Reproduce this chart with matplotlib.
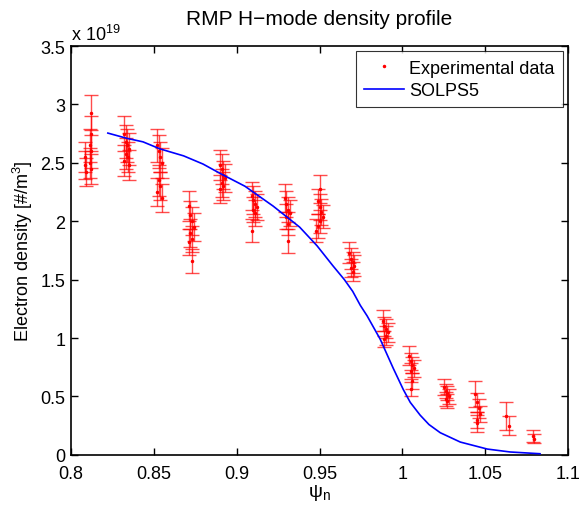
import matplotlib
matplotlib.use("Agg")
import matplotlib.pyplot as plt
import numpy as np

plt.rcParams['font.family'] = ['Liberation Sans', 'DejaVu Sans']
plt.rcParams['mathtext.fontset'] = 'custom'
plt.rcParams['mathtext.rm'] = 'Liberation Sans'
plt.rcParams['mathtext.it'] = 'Liberation Sans:italic'

# Experimental data (density in units of 1e19 m^-3)
exp_psi = [
    0.8085, 0.812, 0.812, 0.8115, 0.812, 0.8085, 0.8115, 0.812, 0.809,
    0.832, 0.833, 0.834, 0.835, 0.8335, 0.8345, 0.832, 0.835,
    0.852, 0.853, 0.854, 0.855, 0.853, 0.854, 0.852, 0.855,
    0.871, 0.872, 0.873, 0.874, 0.872, 0.873, 0.871, 0.873,
    0.890, 0.891, 0.892, 0.893, 0.891, 0.892, 0.890,
    0.909, 0.910, 0.911, 0.912, 0.910, 0.911, 0.909,
    0.929, 0.930, 0.931, 0.932, 0.930, 0.931, 0.931,
    0.950, 0.949, 0.950, 0.951, 0.952, 0.950, 0.949, 0.948,
    0.968, 0.969, 0.970, 0.971, 0.969, 0.970,
    0.988, 0.989, 0.990, 0.991, 0.990, 0.989,
    1.004, 1.005, 1.006, 1.007, 1.005, 1.006, 1.005,
    1.025, 1.026, 1.027, 1.028, 1.026, 1.027,
    1.044, 1.045, 1.046, 1.047, 1.045, 1.045,
    1.0625, 1.064,
    1.079, 1.0795,
]
exp_ne = [
    2.48, 2.93, 2.75, 2.65, 2.60, 2.55, 2.50, 2.45, 2.42,
    2.75, 2.68, 2.65, 2.62, 2.58, 2.55, 2.52, 2.48,
    2.65, 2.60, 2.55, 2.50, 2.35, 2.30, 2.25, 2.20,
    2.13, 2.05, 2.00, 1.95, 1.90, 1.85, 1.82, 1.66,
    2.48, 2.45, 2.40, 2.37, 2.33, 2.30, 2.28,
    2.22, 2.18, 2.15, 2.12, 2.10, 2.07, 1.92,
    2.20, 2.15, 2.10, 2.07, 2.04, 1.98, 1.83,
    2.28, 2.17, 2.12, 2.08, 2.04, 2.00, 1.96, 1.92,
    1.73, 1.68, 1.65, 1.62, 1.60, 1.57,
    1.15, 1.10, 1.08, 1.05, 1.02, 0.99,
    0.85, 0.80, 0.77, 0.74, 0.72, 0.63, 0.56,
    0.58, 0.55, 0.53, 0.50, 0.48, 0.46,
    0.52, 0.45, 0.40, 0.35, 0.30, 0.27,
    0.33, 0.25,
    0.16, 0.14,
]
exp_err = [
    0.12, 0.15, 0.15, 0.14, 0.14, 0.13, 0.13, 0.13, 0.12,
    0.15, 0.14, 0.14, 0.14, 0.13, 0.13, 0.13, 0.13,
    0.14, 0.14, 0.13, 0.13, 0.13, 0.12, 0.12, 0.12,
    0.13, 0.12, 0.12, 0.12, 0.12, 0.11, 0.11, 0.10,
    0.13, 0.13, 0.12, 0.12, 0.12, 0.12, 0.12,
    0.12, 0.12, 0.11, 0.11, 0.11, 0.11, 0.10,
    0.12, 0.11, 0.11, 0.11, 0.11, 0.10, 0.10,
    0.12, 0.11, 0.11, 0.11, 0.10, 0.10, 0.10, 0.10,
    0.09, 0.09, 0.09, 0.09, 0.08, 0.08,
    0.09, 0.08, 0.08, 0.08, 0.08, 0.07,
    0.08, 0.07, 0.07, 0.07, 0.07, 0.07, 0.06,
    0.07, 0.06, 0.06, 0.06, 0.06, 0.06,
    0.11, 0.08, 0.08, 0.07, 0.07, 0.07,
    0.12, 0.08,
    0.05, 0.04,
]

# SOLPS5 simulation profile
solps_psi = [0.8223, 0.8338, 0.8435, 0.8537, 0.8680, 0.8797, 0.890, 0.905, 0.922, 0.930,
             0.938, 0.9485, 0.958, 0.965, 0.970, 0.9746, 0.9787, 0.9866, 0.9945, 1.0005,
             1.0047, 1.0107, 1.0160, 1.0228, 1.0349, 1.0512, 1.065, 1.083]
solps_ne = [2.755, 2.71, 2.68, 2.62, 2.56, 2.49, 2.41, 2.30, 2.13, 2.04,
            1.95, 1.79, 1.62, 1.50, 1.40, 1.28, 1.19, 0.99, 0.74, 0.56,
            0.45, 0.34, 0.26, 0.19, 0.11, 0.05, 0.025, 0.01]

fig = plt.figure(figsize=(5.81, 5.06), dpi=100)
ax = fig.add_axes([0.122, 0.099, 0.856, 0.808])

ax.errorbar(exp_psi, exp_ne, yerr=exp_err, fmt='none', ecolor='red',
            elinewidth=1.0, capsize=5, capthick=1.0, alpha=0.7, zorder=2)
ax.plot(exp_psi, exp_ne, linestyle='none', marker='.', markersize=3,
        color='red', label='Experimental data', zorder=3)
ax.plot(solps_psi, solps_ne, color='blue', linewidth=1.2, label='SOLPS5', zorder=4)

ax.set_xlim(0.8, 1.1)
ax.set_ylim(0, 3.5)
ax.set_xticks([0.8, 0.85, 0.9, 0.95, 1.0, 1.05, 1.1])
ax.set_xticklabels(['0.8', '0.85', '0.9', '0.95', '1', '1.05', '1.1'])
ax.set_yticks([0, 0.5, 1, 1.5, 2, 2.5, 3, 3.5])
ax.set_yticklabels(['0', '0.5', '1', '1.5', '2', '2.5', '3', '3.5'])
ax.tick_params(direction='in', top=True, right=True, labelsize=13, length=5, width=1)
ax.tick_params(axis='x', pad=7)
ax.tick_params(axis='y', pad=4)
for s in ax.spines.values():
    s.set_linewidth(1.2)

ax.set_xlabel('\u03c8$_{\\mathregular{n}}$', fontsize=14, labelpad=0)
ax.set_ylabel('Electron density [#/m$^3$]', fontsize=13)
ax.set_title('RMP H\u2212mode density profile', fontsize=15, pad=16)
ax.text(0.0, 1.005, r'x 10$^{19}$', transform=ax.transAxes, fontsize=13,
        ha='left', va='bottom')

leg = ax.legend(loc='upper right', fontsize=13, frameon=True, fancybox=False,
                edgecolor='black', borderaxespad=0.3, handlelength=2.2,
                borderpad=0.45, labelspacing=0.3, handletextpad=0.3, markerscale=1.0)
leg.get_frame().set_linewidth(0.8)

fig.savefig('out.png', dpi=100)
